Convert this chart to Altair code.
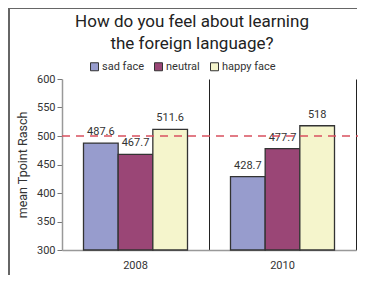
import altair as alt
import pandas as pd

years = ["2008", "2008", "2008", "2010", "2010", "2010"]
groups = ["sad face", "neutral", "happy face", "sad face", "neutral", "happy face"]
values = [487.6, 467.7, 511.6, 428.7, 477.7, 518.0]
labels = ["487.6", "467.7", "511.6", "428.7", "477.7", "518"]
order = ["sad face", "neutral", "happy face"]
colors = ["#979ccd", "#9a4676", "#f5f5cc"]
y_ticks = [300, 350, 400, 450, 500, 550, 600]
reference = [500]

df = pd.DataFrame({"year": years, "group": groups, "value": values, "label": labels})
ref_df = pd.DataFrame({"value": reference})

FONT = "Roboto"

x_enc = alt.X("year:N", title=None,
              scale=alt.Scale(paddingInner=0, paddingOuter=0),
              axis=alt.Axis(labelAngle=0, ticks=False, grid=True, bandPosition=1,
                            gridColor="#222", gridWidth=1, domainColor="#999",
                            domainWidth=1.5, labelFontSize=11, labelColor="#333",
                            labelPadding=9, labelFont=FONT))
xo_enc = alt.XOffset("group:N", sort=order,
                     scale=alt.Scale(paddingOuter=0.62, paddingInner=0))
y_enc = alt.Y("value:Q", scale=alt.Scale(domain=[300, 600], clamp=True),
              title="mean Tpoint Rasch",
              axis=alt.Axis(values=y_ticks, grid=False, labelOverlap=False,
                            tickSize=5, tickColor="#777", domainColor="#999",
                            domainWidth=1.5, labelFontSize=11, labelColor="#333",
                            labelFont=FONT, titleFont=FONT, titleFontSize=12.5,
                            titleFontWeight="normal", titleColor="#333",
                            titlePadding=7, labelPadding=2))

bars = alt.Chart(df).mark_bar(stroke="#333", strokeWidth=1.3).encode(
    x=x_enc,
    xOffset=xo_enc,
    y=y_enc,
    color=alt.Color("group:N", sort=order,
                    scale=alt.Scale(domain=order, range=colors),
                    legend=alt.Legend(title=None, orient="none", legendX=27, legendY=-18,
                                      direction="horizontal", symbolType="square",
                                      symbolSize=64, symbolStrokeColor="#333",
                                      symbolStrokeWidth=1, labelFontSize=11,
                                      labelFont=FONT, labelColor="#333",
                                      columnPadding=8, labelOffset=2, symbolOpacity=1)),
)

text = alt.Chart(df).mark_text(baseline="bottom", dy=-6, fontSize=11, font=FONT,
                               color="#333").encode(
    x=x_enc,
    xOffset=xo_enc,
    y=y_enc,
    text="label:N",
)

ref_line = alt.Chart(ref_df).mark_rule(color="#d9505f", strokeDash=[8, 6],
                                       strokeWidth=1.5).encode(
    y=y_enc,
    x=alt.value(0),
    x2=alt.value(296),
)

frame_top = alt.Chart(ref_df).mark_rule(color="#666", strokeWidth=2, strokeCap="butt").encode(
    x=alt.value(-54), x2=alt.value(295), y=alt.value(-71))
frame_left = alt.Chart(ref_df).mark_rule(color="#666", strokeWidth=2, strokeCap="butt").encode(
    x=alt.value(-53), y=alt.value(-71), y2=alt.value(196))

chart = alt.layer(bars, text, ref_line, frame_top, frame_left).properties(
    width=294, height=171,
    title=alt.Title(["How do you feel about learning", "the foreign language?"],
                    fontSize=17, font=FONT, fontWeight="normal", color="#222",
                    anchor="middle", frame="group", dx=-17, lineHeight=22,
                    offset=0, dy=46),
    autosize=alt.AutoSizeParams(type="none"),
    padding={"left": 54, "top": 71, "right": 2, "bottom": 25},
    background="white",
).configure_view(stroke=None, strokeWidth=0).configure_scale(bandPaddingInner=0)

chart.save("out.html", embed_options={"renderer": "svg", "actions": False})
